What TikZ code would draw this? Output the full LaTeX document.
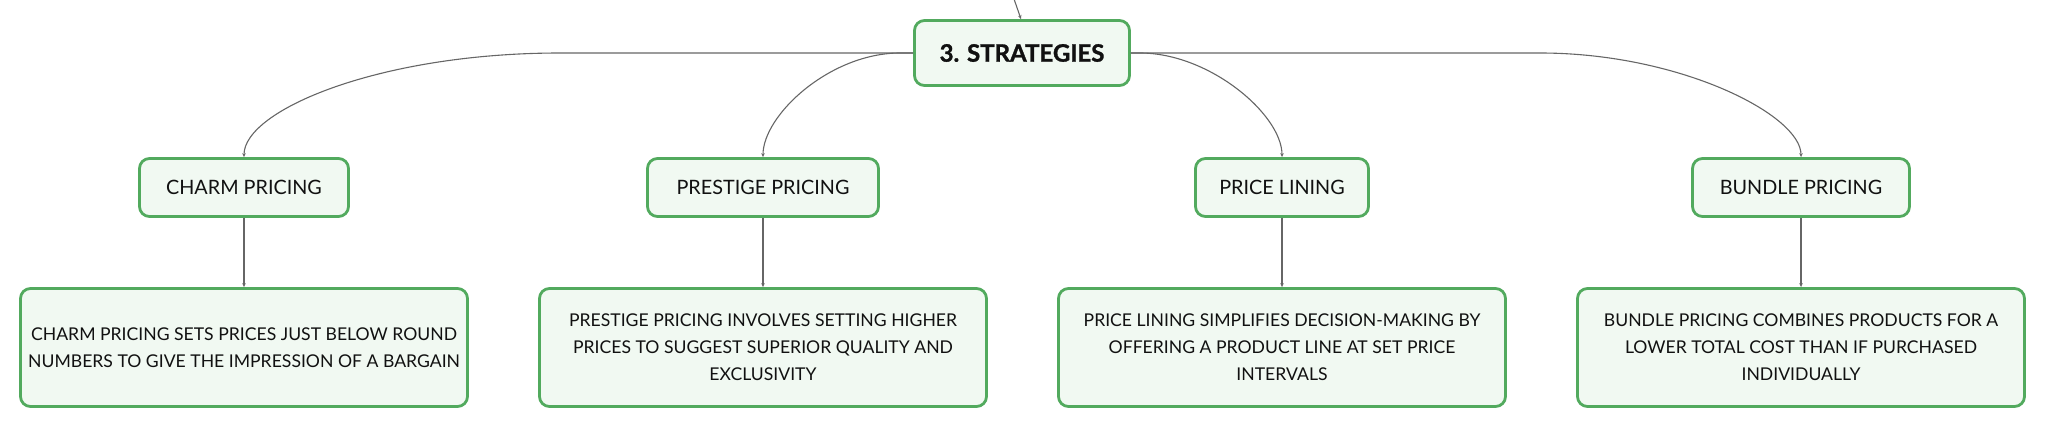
\documentclass[tikz,border=0pt]{standalone}
\usepackage{fontspec}
\setmainfont{Lato}
\newfontfamily\rootfont[BoldFeatures={FakeBold=1.2}]{Lato}
\usetikzlibrary{arrows.meta}
\definecolor{bordergreen}{HTML}{52AA5E}
\definecolor{boxfill}{HTML}{F1F9F2}
\definecolor{linegray}{HTML}{666666}
\definecolor{textblack}{HTML}{111111}
\tikzset{
  box/.style={draw=bordergreen, fill=boxfill, line width=2.8pt, rounded corners=10pt,
    align=center, inner sep=0pt, text=textblack},
  rootbox/.style={box, minimum width=215pt, minimum height=65pt,
    font=\rootfont\fontsize{24}{28}\selectfont\bfseries},
  titlebox/.style={box, minimum height=58pt, font=\fontsize{19.8}{24}\selectfont},
  descbox/.style={box, minimum width=447pt, minimum height=118pt,
    font=\fontsize{17.6}{27}\selectfont},
  conn/.style={draw=linegray, line width=1.1pt, -{Stealth[length=4pt,width=3.5pt]}}
}
\begin{document}
\begin{tikzpicture}[x=1pt,y=-1pt]
\useasboundingbox (0,0) rectangle (2046,429);
\node[rootbox] (root) at (1022,53) {3. STRATEGIES};
\node[titlebox, minimum width=209pt] (charm) at (244,187.5) {CHARM PRICING};
\node[titlebox, minimum width=231pt] (prestige) at (763,187.5) {PRESTIGE PRICING};
\node[titlebox, minimum width=173pt] (lining) at (1282,187.5) {PRICE LINING};
\node[titlebox, minimum width=217pt] (bundle) at (1801,187.5) {BUNDLE PRICING};
\node[descbox] (charmd) at (244,347.5) {CHARM PRICING SETS PRICES JUST BELOW ROUND\\NUMBERS TO GIVE THE IMPRESSION OF A BARGAIN};
\node[descbox] (prestiged) at (763,347.5) {PRESTIGE PRICING INVOLVES SETTING HIGHER\\PRICES TO SUGGEST SUPERIOR QUALITY AND\\EXCLUSIVITY};
\node[descbox] (liningd) at (1282,347.5) {PRICE LINING SIMPLIFIES DECISION-MAKING BY\\OFFERING A PRODUCT LINE AT SET PRICE\\INTERVALS};
\node[descbox] (bundled) at (1801,347.5) {BUNDLE PRICING COMBINES PRODUCTS FOR A\\LOWER TOTAL COST THAN IF PURCHASED\\INDIVIDUALLY};
\coordinate (parentin) at (1014,-1);
\draw[conn] (parentin) -- ([xshift=-1pt]root.north);
\draw[conn] (root.west) -- (560,53) .. controls (380,53) and (244,110) .. (charm.north);
\draw[conn] (root.west) -- (900,53) .. controls (830,53) and (763,115) .. (prestige.north);
\draw[conn] (root.east) -- (1140,53) .. controls (1210,53) and (1282,115) .. (lining.north);
\draw[conn] (root.east) -- (1540,53) .. controls (1680,53) and (1801,115) .. (bundle.north);
\draw[conn] (charm.south) -- (charmd.north);
\draw[conn] (prestige.south) -- (prestiged.north);
\draw[conn] (lining.south) -- (liningd.north);
\draw[conn] (bundle.south) -- (bundled.north);
\end{tikzpicture}
\end{document}
